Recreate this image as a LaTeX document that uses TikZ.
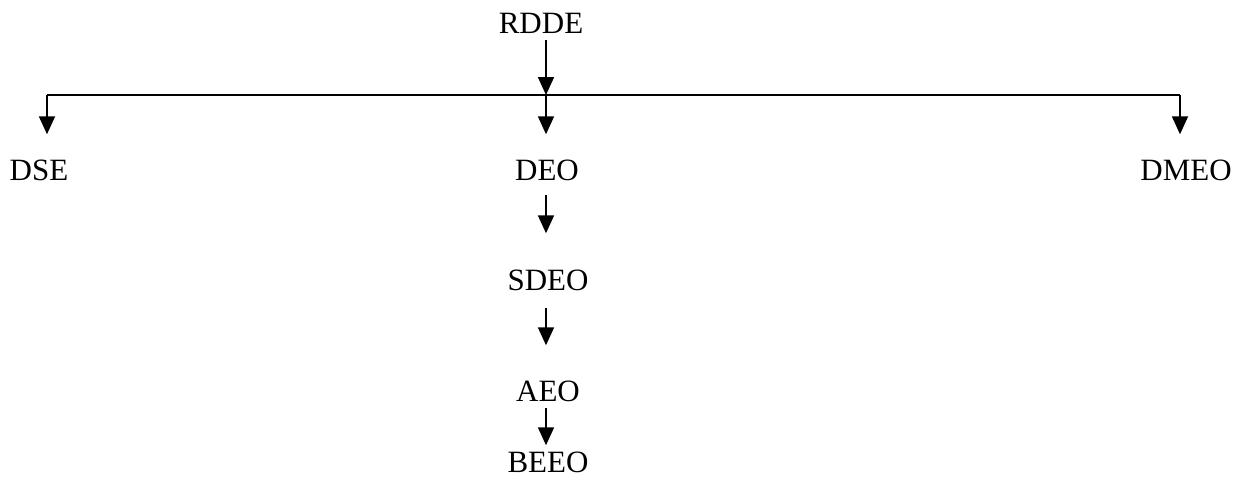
\documentclass[tikz,border=0pt]{standalone}
\usepackage{fontspec}
\setmainfont{Liberation Serif}
\usetikzlibrary{arrows.meta}
\begin{document}
\begin{tikzpicture}[x=1pt,y=-1pt,
  lbl/.style={anchor=base,inner sep=0pt,text depth=0pt,font=\fontsize{31}{37}\selectfont},
  conn/.style={line width=1.8pt,-{Triangle[width=16pt,length=18pt]}},
  bar/.style={line width=1.8pt}]
\useasboundingbox (0,0) rectangle (1243,477);
\node[lbl] (rdde) at (541,33) {RDDE};
\node[lbl] (dse) at (39,180) {DSE};
\node[lbl] (deo) at (547,180) {DEO};
\node[lbl] (dmeo) at (1186,180) {DMEO};
\node[lbl] (sdeo) at (548,290) {SDEO};
\node[lbl] (aeo) at (548,401) {AEO};
\node[lbl] (beeo) at (548,472) {BEEO};
\coordinate (jl) at (47,95);
\coordinate (jm) at (546,95);
\coordinate (jr) at (1180,95);
\draw[bar] (jl) -- (jr);
\draw[conn] (rdde.south -| jm) ++(0,7) -- (jm);
\draw[conn,shorten >=25pt] (jl) -- (jl |- dse.north);
\draw[conn,shorten >=25pt] (jm) -- (jm |- deo.north);
\draw[conn,shorten >=25pt] (jr) -- (jr |- dmeo.north);
\draw[conn,shorten <=15pt,shorten >=36pt] (deo.south -| jm) -- (sdeo.north -| jm);
\draw[conn,shorten <=18pt,shorten >=35pt] (sdeo.south -| jm) -- (aeo.north -| jm);
\draw[conn,shorten <=7pt,shorten >=6pt] (aeo.south -| jm) -- (beeo.north -| jm);
\end{tikzpicture}
\end{document}
